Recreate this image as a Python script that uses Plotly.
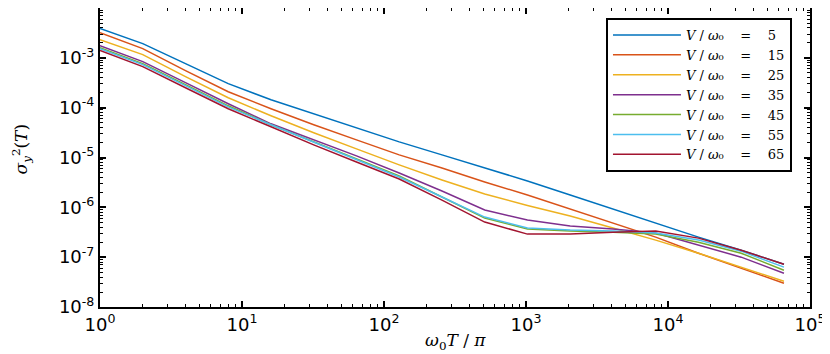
import plotly.graph_objects as go

# x values: omega_0 T / pi  (powers of two)
x_vals = [1, 2, 4, 8, 16, 32, 64, 128, 256, 512, 1024, 2048, 4096, 8192, 16384, 32768, 65536]

labels = ["5", "15", "25", "35", "45", "55", "65"]

v5 = [3.87e-3, 1.93e-3, 7.64e-4, 3.03e-4, 1.44e-4, 7.54e-5, 3.94e-5, 2.06e-5, 1.13e-5,
      6.18e-6, 3.38e-6, 1.77e-6, 9.25e-7, 4.83e-7, 2.52e-7, 1.38e-7, 7.23e-8]
v15 = [3.21e-3, 1.53e-3, 5.52e-4, 2.09e-4, 9.5e-5, 4.53e-5, 2.26e-5, 1.13e-5, 6.18e-6,
       3.23e-6, 1.77e-6, 9.25e-7, 4.83e-7, 2.52e-7, 1.20e-7, 6.01e-8, 3.0e-8]
v25 = [2.32e-3, 1.16e-3, 4.19e-4, 1.58e-4, 6.87e-5, 3.13e-5, 1.49e-5, 7.10e-6, 3.54e-6,
       1.85e-6, 1.09e-6, 6.68e-7, 3.84e-7, 2.20e-7, 1.20e-7, 6.3e-8, 3.29e-8]
v35 = [1.76e-3, 8.39e-4, 3.17e-4, 1.20e-4, 4.74e-5, 2.26e-5, 1.08e-5, 4.90e-6, 2.13e-6,
       8.83e-7, 5.55e-7, 4.21e-7, 3.66e-7, 3.04e-7, 1.74e-7, 1.0e-7, 4.76e-8]
v45 = [1.60e-3, 7.64e-4, 2.89e-4, 1.09e-4, 4.53e-5, 2.06e-5, 9.37e-6, 4.27e-6, 1.61e-6,
       6.09e-7, 3.66e-7, 3.34e-7, 3.18e-7, 2.90e-7, 2.00e-7, 1.20e-7, 5.47e-8]
v55 = [1.53e-3, 7.30e-4, 2.76e-4, 1.04e-4, 4.53e-5, 2.01e-5, 8.95e-6, 4.07e-6, 1.61e-6,
       6.38e-7, 3.84e-7, 3.49e-7, 3.34e-7, 3.04e-7, 2.20e-7, 1.32e-7, 6.3e-8]
v65 = [1.40e-3, 6.65e-4, 2.51e-4, 9.5e-5, 4.13e-5, 1.79e-5, 8.15e-6, 3.71e-6, 1.40e-6,
       5.06e-7, 2.90e-7, 2.90e-7, 3.18e-7, 3.34e-7, 2.41e-7, 1.38e-7, 7.23e-8]

series = [v5, v15, v25, v35, v45, v55, v65]
colors = ["#0072BD", "#D95319", "#EDB120", "#7E2F8E", "#77AC30", "#4DBEEE", "#A2142F"]

x_tick_vals = [1, 10, 100, 1000, 10000, 100000]
x_tick_text = ["10<sup>0</sup>", "10<sup>1</sup>", "10<sup>2</sup>", "10<sup>3</sup>",
               "10<sup>4</sup>", "10<sup>5</sup>"]
y_tick_vals = [1e-8, 1e-7, 1e-6, 1e-5, 1e-4, 1e-3, 1e-2]
y_tick_text = ["10<sup>-8</sup>", "10<sup>-7</sup>", "10<sup>-6</sup>", "10<sup>-5</sup>",
               "10<sup>-4</sup>", "10<sup>-3</sup>", "10<sup>-2</sup>"]

x_minor = [m * 10 ** e for e in range(0, 5) for m in range(2, 10)]
y_minor = [m * 10.0 ** e for e in range(-8, -2) for m in range(2, 10)]

fig = go.Figure()
for vals, lab, col in zip(series, labels, colors):
    fig.add_trace(go.Scatter(
        x=x_vals, y=vals, mode="lines",
        line=dict(color=col, width=1.5),
        name="<i>V</i> / <i>ω</i>₀    =    " + lab,
    ))

tick_font = dict(family="DejaVu Sans", size=18, color="black")
axis_common = dict(
    type="log", showline=True, linecolor="black", linewidth=2, mirror="ticks",
    ticks="inside", ticklen=6, tickwidth=1.5, tickcolor="black",
    showgrid=False, zeroline=False, tickfont=tick_font, tickmode="array",
    automargin=False,
)

fig.update_xaxes(
    **axis_common,
    range=[0, 5],
    tickvals=x_tick_vals, ticktext=x_tick_text,
    minor=dict(tickmode="array", tickvals=x_minor, ticks="inside", ticklen=3,
               tickwidth=1, tickcolor="black", showgrid=False),
)
fig.update_yaxes(
    **axis_common,
    range=[-8, -2],
    tickvals=y_tick_vals, ticktext=y_tick_text,
    minor=dict(tickmode="array", tickvals=y_minor, ticks="inside", ticklen=3,
               tickwidth=1, tickcolor="black", showgrid=False),
)

title_font = dict(family="DejaVu Serif", size=17, color="black")
fig.add_annotation(
    text="<i>ω</i><sub>0</sub><i>T</i> / <i>π</i>",
    xref="paper", yref="paper", x=0.5, y=-0.115, xanchor="center", yanchor="middle",
    showarrow=False, font=title_font,
)
fig.add_annotation(
    text="<i>σ</i><sub><i>y</i></sub><sup>2</sup>(<i>T</i>)",
    xref="paper", yref="paper", x=-0.11, y=0.53, xanchor="center", yanchor="middle",
    showarrow=False, font=title_font, textangle=-90,
)

fig.update_layout(
    width=822, height=346,
    margin=dict(l=92, r=20, t=0, b=47),
    paper_bgcolor="white", plot_bgcolor="white",
    showlegend=True,
    legend=dict(
        x=0.9746, y=0.9666, xanchor="right", yanchor="top",
        bgcolor="white", bordercolor="black", borderwidth=2,
        font=dict(family="DejaVu Serif", size=13, color="black"),
        tracegroupgap=0, itemwidth=68,
    ),
)

fig.write_html("out.html")
